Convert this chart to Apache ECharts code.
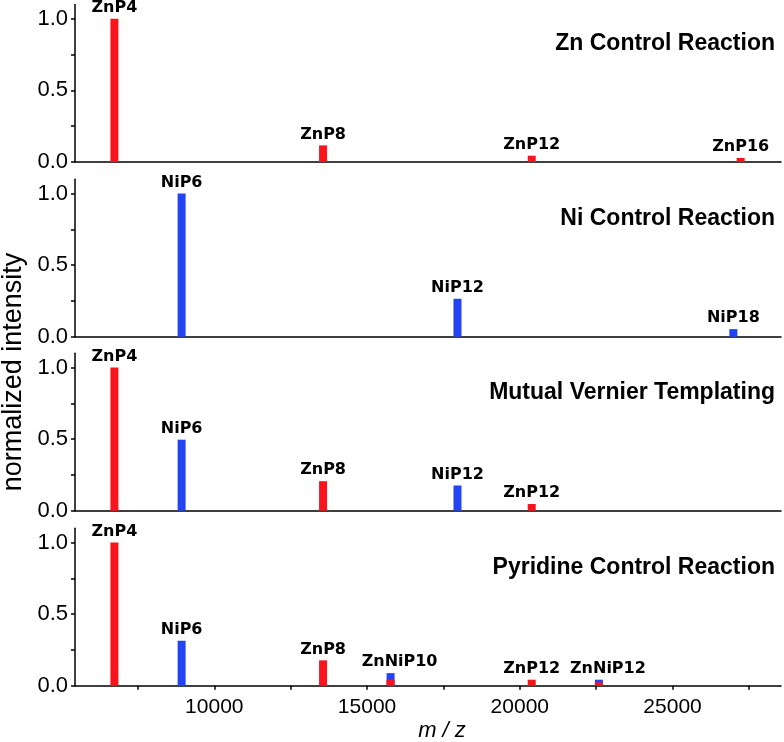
<!DOCTYPE html>
<html><head><meta charset="utf-8">
<script src="https://cdn.jsdelivr.net/npm/echarts@6/dist/echarts.min.js"></script>
<style>html,body{margin:0;padding:0;background:#fff}#c{width:784px;height:742px}</style>
</head><body><div id="c"></div>
<script>
// ---- data ----
const panelTitles = ['Zn Control Reaction', 'Ni Control Reaction', 'Mutual Vernier Templating', 'Pyridine Control Reaction'];

// Panel 1: Zn control
const p1RedNames = ['ZnP4', 'ZnP8', 'ZnP12', 'ZnP16'];
const p1RedMz = [6730, 13560, 20390, 27230];
const p1RedVal = [1.0, 0.116, 0.044, 0.028];

// Panel 2: Ni control
const p2BlueNames = ['NiP6', 'NiP12', 'NiP18'];
const p2BlueMz = [8930, 17960, 26990];
const p2BlueVal = [1.0, 0.265, 0.053];

// Panel 3: mutual Vernier templating
const p3RedNames = ['ZnP4', 'ZnP8', 'ZnP12'];
const p3RedMz = [6730, 13560, 20390];
const p3RedVal = [1.0, 0.206, 0.047];
const p3BlueNames = ['NiP6', 'NiP12'];
const p3BlueMz = [8930, 17960];
const p3BlueVal = [0.496, 0.176];

// Panel 4: pyridine control
const p4RedNames = ['ZnP4', 'ZnP8', 'ZnP12'];
const p4RedMz = [6730, 13560, 20390];
const p4RedVal = [1.0, 0.177, 0.042];
const p4BlueNames = ['NiP6'];
const p4BlueMz = [8930];
const p4BlueVal = [0.314];
const p4MixNames = ['ZnNiP10', 'ZnNiP12'];
const p4MixMz = [15770, 22590];
const p4MixRed = [0.042, 0.023];
const p4MixBlue = [0.046, 0.019];

const xMin = 5440, xMax = 28550;
const xTickValues = [7500, 10000, 12500, 15000, 17500, 20000, 22500, 25000, 27500];
const xLabelValues = [10000, 15000, 20000, 25000];
const yTickValues = [0, 0.25, 0.5, 0.75, 1.0];
const yLabelValues = [0, 0.5, 1.0];

// ---- build ----
const RED = '#f8141c', BLUE = '#2244f2';
const gridTops = [4.5, 179.2, 353.2, 528.2];
const gridH = 157.5;

function items(names, mz, val, withLabel, shift) {
  return mz.map((m, i) => ({
    name: names[i], value: [m, val[i]],
    label: { show: withLabel, offset: [shift || 0, 0] }
  }));
}

const panels = [
  { red: items(p1RedNames, p1RedMz, p1RedVal, true), blue: [] },
  { red: [], blue: items(p2BlueNames, p2BlueMz, p2BlueVal, true) },
  { red: items(p3RedNames, p3RedMz, p3RedVal, true), blue: items(p3BlueNames, p3BlueMz, p3BlueVal, true) },
  {
    red: items(p4RedNames, p4RedMz, p4RedVal, true).concat(items(p4MixNames, p4MixMz, p4MixRed, false)),
    blue: items(p4BlueNames, p4BlueMz, p4BlueVal, true).concat(
      items(p4MixNames, p4MixMz, p4MixRed.map((r, i) => r + p4MixBlue[i]), true, 9))
  }
];

const labelStyle = {
  position: 'top', distance: 3, formatter: '{b}',
  fontFamily: 'DejaVu Sans', fontWeight: 'bold', fontSize: 16, color: '#000'
};

const grids = [], xAxes = [], yAxes = [], series = [], titles = [];
panels.forEach((p, k) => {
  const last = k === panels.length - 1;
  grids.push({ left: 75, right: 3, top: gridTops[k], height: gridH });
  xAxes.push({
    type: 'value', gridIndex: k, min: xMin, max: xMax,
    axisLine: { show: true, lineStyle: { color: '#000', width: 1.5 } },
    axisTick: { show: last, length: 4, inside: false, customValues: xTickValues, lineStyle: { color: '#000', width: 1.5 } },
    axisLabel: { show: last, customValues: xLabelValues, margin: 11, formatter: v => String(v),
      fontFamily: 'Liberation Sans', fontSize: 21, color: '#000' },
    splitLine: { show: false }
  });
  yAxes.push({
    type: 'value', gridIndex: k, min: 0, max: 1.1,
    axisLine: { show: true, lineStyle: { color: '#000', width: 1.5 } },
    axisTick: { show: true, length: 4, customValues: yTickValues, lineStyle: { color: '#000', width: 1.5 } },
    axisLabel: { customValues: yLabelValues, margin: 7, formatter: v => v.toFixed(1), fontFamily: 'Liberation Sans', fontSize: 22, color: '#000' },
    splitLine: { show: false }
  });
  series.push({
    type: 'bar', xAxisIndex: k, yAxisIndex: k, barWidth: 8, barGap: '-100%',
    itemStyle: { color: BLUE }, data: p.blue, label: labelStyle, silent: true, animation: false
  });
  series.push({
    type: 'bar', xAxisIndex: k, yAxisIndex: k, barWidth: 8, barGap: '-100%',
    itemStyle: { color: RED }, data: p.red, label: labelStyle, silent: true, animation: false
  });
  titles.push({
    text: panelTitles[k], right: 4, top: gridTops[k] + 23,
    textStyle: { fontFamily: 'Liberation Sans', fontWeight: 'bold', fontSize: 23, color: '#000' }
  });
});

const chart = echarts.init(document.getElementById('c'));
chart.setOption({
  animation: false,
  title: titles,
  grid: grids, xAxis: xAxes, yAxis: yAxes, series: series,
  graphic: [
    { type: 'text', x: 14, y: 372, rotation: Math.PI / 2,
      style: { text: 'normalized intensity', fontFamily: 'Liberation Sans', fontSize: 27, fill: '#000', align: 'center', verticalAlign: 'middle' } },
    { type: 'text', x: 442, y: 731,
      style: { text: 'm / z', fontFamily: 'Liberation Sans', fontStyle: 'italic', fontSize: 22, fill: '#000', align: 'center', verticalAlign: 'middle' } }
  ]
});
</script></body></html>
